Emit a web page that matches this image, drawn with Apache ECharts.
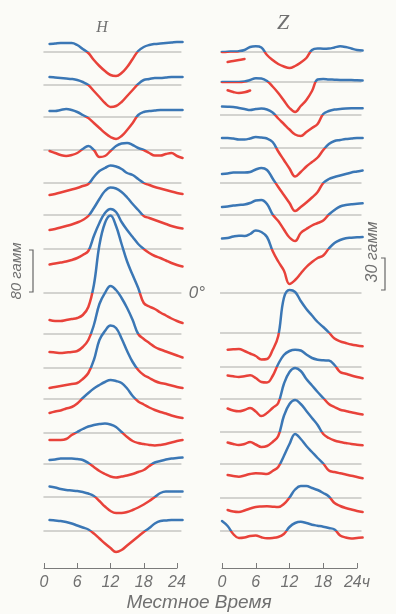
<!DOCTYPE html>
<html><head><meta charset="utf-8">
<script src="https://cdn.jsdelivr.net/npm/echarts@6/dist/echarts.min.js"></script>
<style>html,body{margin:0;padding:0;background:#fbfbf7}#c{width:396px;height:614px}</style>
</head><body><div id="c"></div>
<script>
// local time (hours)
const hours = [0,1,2,3,4,5,6,7,8,9,10,11,12,13,14,15,16,17,18,19,20,21,22,23,24,25];
const tickValues = [0,6,12,18,24];
const hTickLabels = ['0','6','12','18','24'];
const zTickLabels = ['0','6','12','18','24ч'];

// H variations (gamma), one row per station, top to bottom
const H1  = [null,16,17,18,18,18,14,6,-2,-16,-28,-38,-46,-48,-42,-30,-14,2,10,14,16,17,18,19,20,20];
const H2  = [null,16,15,14,13,12,10,6,0,-12,-24,-36,-44,-42,-34,-22,-10,2,10,12,14,14,15,16,16,16];
const H3  = [null,12,12,14,16,14,10,4,-2,-12,-22,-32,-40,-44,-38,-26,-12,4,10,12,13,14,14,14,14,14];
const H4  = [null,-2,-6,-10,-12,-10,-6,2,8,0,-14,-12,-2,8,13,14,10,4,0,-6,-11,-11,-8,-6,-12,-16];
const H5  = [null,-24,-22,-19,-16,-13,-10,-6,-2,12,24,30,35,33,28,20,16,8,0,-4,-8,-11,-14,-17,-20,-22];
const H6  = [null,-30,-28,-25,-22,-19,-15,-10,-2,14,32,48,55,53,46,35,22,10,-2,-6,-10,-14,-18,-22,-25,-27];
const H7  = [null,-31,-29,-27,-25,-22,-18,-12,-4,26,52,72,80,74,54,38,24,10,0,-8,-14,-18,-23,-28,-32,-35];
const H8  = [null,-54,-56,-56,-54,-52,-50,-44,-28,16,96,140,155,134,98,63,36,10,-20,-27,-32,-39,-45,-51,-56,-60];
const H9  = [null,-36,-37,-38,-37,-36,-34,-26,-12,18,60,82,96,88,72,52,28,0,-10,-18,-26,-31,-35,-39,-43,-47];
const H10 = [null,-40,-38,-36,-34,-32,-30,-22,-10,16,56,74,85,80,59,34,12,-4,-14,-20,-26,-30,-32,-35,-38,-40];
const H11 = [null,-28,-25,-23,-19,-16,-9,2,12,21,28,34,38,36,32,21,6,-5,-11,-17,-22,-26,-29,-33,-36,-38];
const H12 = [null,-14,-14,-14,-12,-4,2,8,13,16,18,19,17,12,2,-8,-16,-20,-22,-24,-25,-24,-22,-19,-16,-14];
const H13 = [null,8,9,11,11,11,10,8,2,-6,-14,-20,-25,-27,-25,-23,-20,-16,-12,-4,3,6,9,11,12,13];
const H14 = [null,21,19,16,14,13,12,10,7,2,-8,-19,-28,-32,-32,-30,-26,-21,-15,-8,0,8,11,11,11,11];
const H15 = [null,22,21,20,18,15,11,7,3,-5,-15,-25,-34,-42,-38,-29,-20,-11,-2,6,15,20,21,22,22,22];

// Z variations (gamma)
const Z1  = [0,0.3,0.5,0.8,2,5,5.7,4.5,-3,-8,-12,-14.5,-16,-14,-10.5,-6,2,3.5,3.3,3.5,4.5,5.7,5,3.5,2,1.5];
const Z2  = [0,0,0,0,0.5,2,3.8,3.5,1,-4.5,-11,-18.5,-26,-30,-24,-18,-9,2.5,3,2.5,2.3,2,2,2,1.7,1.5];
const Z3  = [8.5,8.3,8,7,6,5,6,6.5,5.5,2.5,-3.5,-9,-14.5,-19.5,-21,-17,-13,-9,1,4,5.5,6,6.5,6.7,6.7,6.7];
const Z4  = [10,10,9.5,8.5,8.5,9.5,11,10.5,9.5,6,-3.5,-12,-20.5,-28.5,-24,-18.5,-14,-9.5,-2,4,7,8,9,9.5,10,10];
const Z5  = [9,9.5,10.5,10.5,10.5,11,13.5,15,13,4.5,-4,-12,-20,-28,-24,-19.5,-14.5,-9,0,4,6,7.5,9,10.5,11.5,12.5];
const Z6  = [8,8.5,9.5,10,10.5,12,14.5,15,11,0.5,-6,-14.5,-22.5,-26,-18,-14,-10.5,-8,-5.5,0.5,5,8.5,10,10.7,11.3,11.7];
const Z7  = [10.5,11,12.5,13.3,13,15,18.5,17,12,-2,-12.5,-21.5,-35,-31,-24.5,-18,-13,-9,-6.5,0.5,6,9,10.8,11.3,11.7,12];
const Z8  = [null,null,null,null,null,null,null,null,null,null,null,null,null,null,null,null,null,null,null,null,null,null,null,null,null,null];
const Z9  = [null,-16.7,-16.3,-16,-18,-20.5,-23,-26.5,-26,-17,-3,35,43,41,32,24,17.5,11,6,0.5,-5.5,-8.3,-10,-11.5,-12.5,-13.3];
const Z10 = [null,-8.5,-9.3,-10,-9.3,-8.3,-11,-15,-15.5,-9,3,12,16,17.3,16.5,12.5,9,7.3,6.7,6.5,2,-5,-6.7,-8.5,-10,-11.3];
const Z11 = [null,-9.5,-11.5,-12.3,-11,-9,-12.5,-17,-14,-9,-4,15,27,31,28,20,13.5,7,1,-5,-8,-10.7,-12,-13.3,-14.5,-15.5];
const Z12 = [null,-10.5,-12,-13,-12,-10,-12.5,-15,-14,-10,-4,16,28,32,28,21,14,7,-2,-6,-8.5,-10,-11,-12,-12.7,-13.3];
const Z13 = [null,-11,-12,-12.7,-11.5,-10,-9.3,-9.5,-10,-7,-3,8,20,30,25,18,12,6,0.5,-6.5,-8,-9.3,-10.5,-11.7,-13,-14.3];
const Z14 = [null,-12,-13.5,-14,-12.5,-10.5,-9,-8.5,-8.3,-8.7,-9,-6,0.5,8.5,12,12,10,8,5,1.5,-5,-8,-10,-11.5,-13,-14];
const Z15 = [10,5,-3,-7,-6.5,-5,-4.5,-6.3,-7.3,-7,-6,-3,4,8,9.3,8,6.3,5.3,4.3,3,1.5,-4.5,-6.5,-7.5,-7,-6.5];
// short detached segments in the first two Z rows
const Z1x = [null,-10,-9,-8,-7,null,null,null,null,null,null,null,null,null,null,null,null,null,null,null,null,null,null,null,null,null];
const Z2x = [null,-8.3,-10,-11,-10.3,-8.5,null,null,null,null,null,null,null,null,null,null,null,null,null,null,null,null,null,null,null,null];

const H_ROWS = [H1,H2,H3,H4,H5,H6,H7,H8,H9,H10,H11,H12,H13,H14,H15];
const Z_ROWS = [Z1,Z2,Z3,Z4,Z5,Z6,Z7,Z8,Z9,Z10,Z11,Z12,Z13,Z14,Z15];
const Z_EXTRA = [Z1x,Z2x];

// ---- layout (pixels) ----
const W = 396, HT = 614;
const L = {
  hBase: [52,85,117,150,183,215,249,293,334,368,399,433,464,497,531],
  zBase: [52,82,115,148,183,215,249,293,333,367,399,432,464,498,531],
  hX0: 44, hX24: 177, zX0: 222, zX24: 357,
  hScale: 0.5, zScale: 1.0,
  hSpan: [-0.1, 24.8], zSpan: [-0.35, 24.8],
  axisY: 568
};
const RED = '#e8423a', BLUE = '#3b77b5', GRID_LINE = '#ababa8', TXT = '#707070';

const grids = [], xAxes = [], yAxes = [], series = [], vmSeries = [];
function addPanel(rows, extras, base, x0, x24, scale, span){
  const ph = (x24 - x0) / 24;
  rows.forEach((row, k) => {
    const g = grids.length;
    const b = base[k];
    grids.push({left: x0 - ph, top: 0, width: ph * 27, height: HT});
    xAxes.push({gridIndex: g, type: 'value', min: -1, max: 26, show: false});
    yAxes.push({gridIndex: g, type: 'value', show: false, min: -(HT - b) / scale, max: b / scale});
    series.push({type: 'line', xAxisIndex: g, yAxisIndex: g, silent: true, symbol: 'none', z: 1,
      data: span.map(x => [x, 0]), lineStyle: {color: GRID_LINE, width: 1}});
    const curves = [row];
    if (extras && extras[k]) curves.push(extras[k]);
    curves.forEach(arr => {
      if (!arr.some(v => v !== null)) return;
      vmSeries.push(series.length);
      series.push({type: 'line', xAxisIndex: g, yAxisIndex: g, silent: true, symbol: 'none', showSymbol: false,
        smooth: 0.4, connectNulls: false, z: 3,
        data: hours.map((h, i) => [h, arr[i]]), lineStyle: {width: 2.5, cap: 'round', join: 'round'}});
    });
  });
}
addPanel(H_ROWS, null, L.hBase, L.hX0, L.hX24, L.hScale, L.hSpan);
addPanel(Z_ROWS, Z_EXTRA, L.zBase, L.zX0, L.zX24, L.zScale, L.zSpan);

function addAxis(x0, x24, labels){
  const g = grids.length;
  grids.push({left: x0, top: L.axisY - 10, width: x24 - x0, height: 10});
  xAxes.push({gridIndex: g, type: 'value', min: 0, max: 24, interval: 6, position: 'bottom',
    axisLine: {lineStyle: {color: '#7a7a7a', width: 1}},
    axisTick: {inside: true, length: 5, lineStyle: {color: '#7a7a7a'}},
    splitLine: {show: false},
    axisLabel: {margin: 7, color: TXT, fontSize: 16, fontStyle: 'italic', fontFamily: 'Liberation Sans',
      formatter: v => labels[tickValues.indexOf(v)] || ''}});
  yAxes.push({gridIndex: g, type: 'value', show: false, min: 0, max: 1});
}
addAxis(L.hX0, L.hX24, hTickLabels);
addAxis(L.zX0, L.zX24, zTickLabels);

function txt(x, y, s, font, rot){
  return {type: 'text', x, y, rotation: rot || 0, silent: true,
    style: {text: s, font, fill: TXT, align: 'center', verticalAlign: 'middle'}};
}
const graphic = [
  txt(102, 28, 'H', 'italic 16px "Liberation Serif"'),
  txt(283, 23, 'Z', 'italic 22px "Liberation Serif"'),
  txt(197, 293, '0°', 'italic 17px "Liberation Sans"'),
  txt(17, 271, '80 гамм', 'italic 15px "Liberation Sans"', Math.PI / 2),
  txt(373, 252, '30 гамм', 'italic 16px "Liberation Sans"', Math.PI / 2),
  txt(199, 603, 'Местное Время', 'italic 19px "Liberation Sans"'),
  {type: 'polyline', silent: true, shape: {points: [[29, 250], [33, 250], [33, 292], [29, 292]]},
    style: {stroke: '#666', lineWidth: 1.2, fill: null}},
  {type: 'polyline', silent: true, shape: {points: [[381, 258], [385, 258], [385, 290], [381, 290]]},
    style: {stroke: '#666', lineWidth: 1.2, fill: null}}
];

const chart = echarts.init(document.getElementById('c'), null, {renderer: 'canvas', width: W, height: HT});
chart.setOption({
  backgroundColor: '#fbfbf7',
  animation: false,
  grid: grids, xAxis: xAxes, yAxis: yAxes, series,
  visualMap: {type: 'piecewise', show: false, dimension: 1, seriesIndex: vmSeries,
    pieces: [{gte: -5000, lt: 0, color: RED}, {gte: 0, lte: 5000, color: BLUE}],
    outOfRange: {color: BLUE}},
  graphic
});
</script></body></html>
